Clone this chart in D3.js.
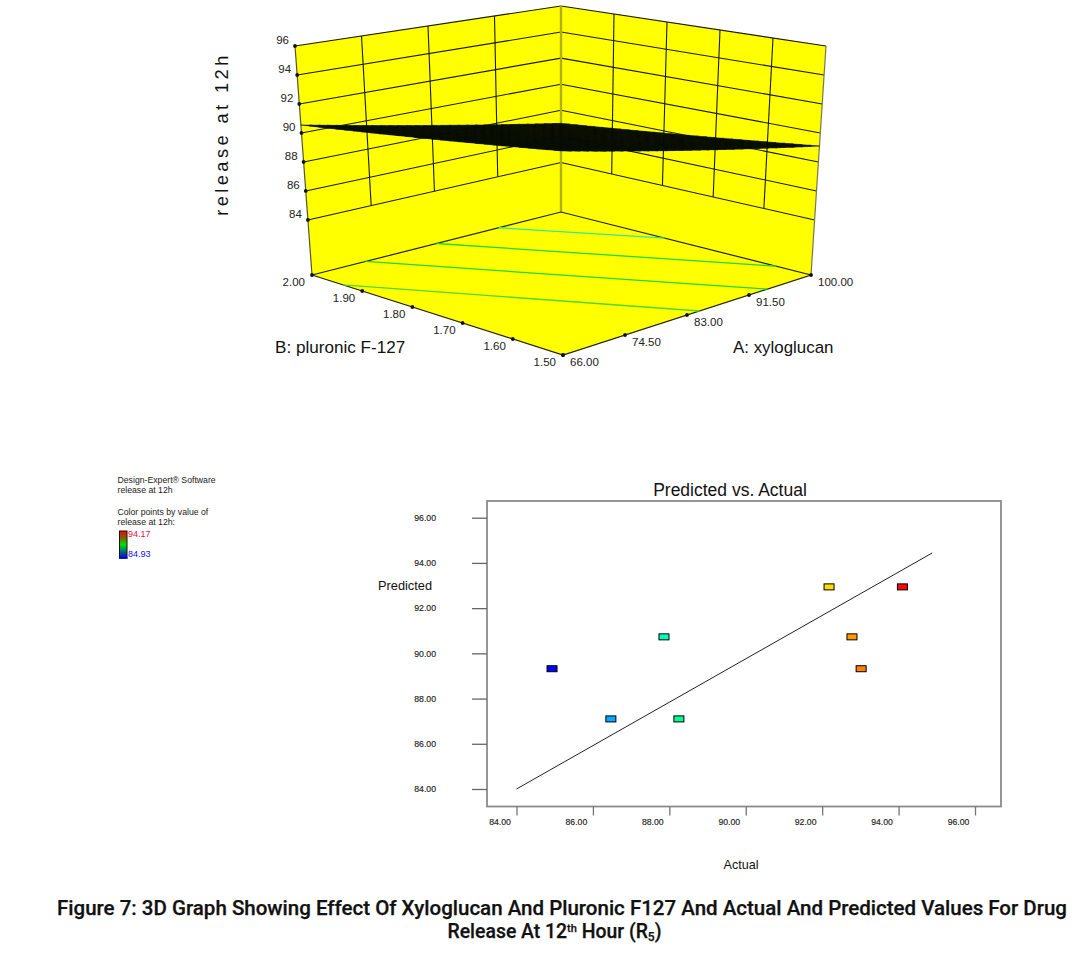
<!DOCTYPE html>
<html><head><meta charset="utf-8">
<script src="https://cdn.jsdelivr.net/npm/d3@7"></script>
<style>html,body{margin:0;background:#fff}svg{display:block}text{font-family:"Liberation Sans",Arial,sans-serif}</style>
</head><body><svg id="c" width="1090" height="953"></svg>
<script>
// ---- data: 3D response surface
const zTicks=[84,86,88,90,92,94,96];
const aTicks=[66,74.5,83,91.5,100];
const bTicks=[1.5,1.6,1.7,1.8,1.9,2];
const zFloor=80.2;
const surfaceA66B20=90.55, surfaceA100B20=87, surfaceA100B15=89.1, surfaceA66B15=92.55;
// contour end points as [A,B] pairs
const contour1=[[91.5,2],[100,1.793]];
const contour2=[[83,2],[100,1.57]];
const contour3=[[73.3,2],[94,1.5]];
const contour4=[[66,1.938],[84.7,1.5]];
const contourColors=["#30e8a0","#20d840","#20d830","#50d830"];
// ---- data: predicted vs actual
const actual=[84.93,87.86,92.18,94.1,92.78,93.02,86.47,88.25];
const predicted=[89.32,90.73,92.94,92.94,90.73,89.32,87.1,87.1];
const axisTicks=[84,86,88,90,92,94,96];
const fitLine=[[84,84],[94.88,94.44]];
const legendMax=94.17, legendMin=84.93;

const svg=d3.select("#c");
const G=svg.append("g");

// ---- 3D projection through scales
const uS=d3.scaleLinear().domain([66,100]).range([0,1]);
const vS=d3.scaleLinear().domain([1.5,2]).range([0,1]);
const edge=(fx,fy,tx,ty)=>({x:d3.scaleLinear().domain([zFloor,96]).range([fx,tx]),y:d3.scaleLinear().domain([zFloor,96]).range([fy,ty])});
const eL=edge(312,275,295,46), eB=edge(561,212,561,6), eR=edge(811,275,826,46), eF=edge(563,355,563,94);
function P(a,b,z){
  const u=uS(a),v=vS(b);
  const bl=(f,g,h,k)=>(1-u)*(1-v)*f+u*(1-v)*g+(1-u)*v*h+u*v*k;
  return [bl(eF.x(z),eR.x(z),eL.x(z),eB.x(z)),bl(eF.y(z),eR.y(z),eL.y(z),eB.y(z))];
}
const line=d3.line();
const poly=(pts,fill)=>G.append("path").attr("d",line(pts)+"Z").attr("fill",fill).attr("stroke","none");
const seg=(pts,col,w)=>G.append("path").attr("d",line(pts)).attr("fill","none").attr("stroke",col).attr("stroke-width",w);

poly([P(66,2,zFloor),P(66,2,96),P(100,2,96),P(100,2,zFloor)],"#ffff00");
poly([P(100,2,zFloor),P(100,2,96),P(100,1.5,96),P(100,1.5,zFloor)],"#ffff00");
poly([P(66,2,zFloor),P(100,2,zFloor),P(100,1.5,zFloor),P(66,1.5,zFloor)],"#ffff00");

// walls grid
zTicks.forEach(z=>{
  seg([P(66,2,z),P(100,2,z)],"#1a1a00",1.1);
  seg([P(100,2,z),P(100,1.5,z)],"#1a1a00",1.1);
});
aTicks.slice(1,-1).forEach(a=>seg([P(a,2,84),P(a,2,96)],"#1a1a00",1.1));
bTicks.slice(1,-1).forEach(b=>seg([P(100,b,84),P(100,b,96)],"#1a1a00",1.1));
seg([P(66,2,zFloor),P(66,2,96)],"#555533",1.2);
seg([P(100,1.5,zFloor),P(100,1.5,96)],"#777755",1.2);
seg([P(100,2,zFloor),P(100,2,96)],"#b0b000",2.4);
// floor edges
seg([P(66,2,zFloor),P(100,2,zFloor),P(100,1.5,zFloor),P(66,1.5,zFloor),P(66,2,zFloor)],"#222200",1.2);

// contours on the floor
[contour1,contour2,contour3,contour4].forEach((c,i)=>{
  seg(c.map(d=>P(d[0],d[1],zFloor)),contourColors[i],1.3);
});

// response surface
const surfZ=(a,b)=>{const u=uS(a),v=vS(b);return (1-u)*(1-v)*surfaceA66B15+u*(1-v)*surfaceA100B15+(1-u)*v*surfaceA66B20+u*v*surfaceA100B20;};
const nSteps=30;
const aS=d3.scaleLinear().domain([0,nSteps]).range([66,100]);
const bS=d3.scaleLinear().domain([0,nSteps]).range([1.5,2]);
const S=(a,b)=>P(a,b,surfZ(a,b));
d3.range(nSteps).forEach(i=>d3.range(nSteps).forEach(j=>{
  const a0=aS(i),a1=aS(i+1),b0=bS(j),b1=bS(j+1);
  G.append("path").attr("d",line([S(a0,b0),S(a1,b0),S(a1,b1),S(a0,b1)])+"Z")
   .attr("fill","#070a02").attr("stroke","#070c04").attr("stroke-width",.5);
}));

// tick dots and labels
const dot=p=>G.append("circle").attr("cx",p[0]).attr("cy",p[1]).attr("r",1.9).attr("fill","#111");
const lab=(x,y,t,anchor,size,col)=>G.append("text").attr("x",x).attr("y",y).attr("text-anchor",anchor||"start").attr("dominant-baseline","central").attr("font-size",size||11.5).attr("fill",col||"#222").text(t);
zTicks.forEach(z=>{const p=P(66,2,z);dot(p);lab(p[0]-6,p[1]-6,String(z),"end");});
bTicks.forEach(b=>{const p=P(66,b,zFloor);dot(p);lab(p[0]-7,p[1]+6.5,b.toFixed(2),"end");});
aTicks.forEach(a=>{const p=P(a,1.5,zFloor);dot(p);lab(p[0]+7,p[1]+6.5,a.toFixed(2),"start");});
G.append("text").attr("transform","translate(228,134) rotate(-90)").attr("text-anchor","middle").attr("font-size",18.3).attr("letter-spacing",3.4).attr("fill","#111").text("release at 12h");
lab(275,347,"B: pluronic F-127","start",17.1,"#111");
lab(733,347,"A: xyloglucan","start",16.9,"#111");

// ---- Legend
[["Design-Expert® Software",480],["release at 12h",490],["Color points by value of",512],["release at 12h:",522]].forEach(d=>lab(117.5,d[1],d[0],"start",8.7,"#222"));
const defs=svg.append("defs");
const grad=defs.append("linearGradient").attr("id","lg").attr("x1",0).attr("x2",0).attr("y1",0).attr("y2",1);
const legendColor=d3.scaleLinear().domain([0,.25,.5,.75,1]).range(["#ff0000","#806000","#00e000","#007070","#0000ff"]);
d3.range(0,1.01,.25).forEach(t=>grad.append("stop").attr("offset",t).attr("stop-color",legendColor(t)));
G.append("rect").attr("x",119.5).attr("y",531).attr("width",7.5).attr("height",27).attr("fill","url(#lg)").attr("stroke","#111").attr("stroke-width",1);
G.append("line").attr("x1",119).attr("x2",127.5).attr("y1",558).attr("y2",558).attr("stroke","#0000d0").attr("stroke-width",1.6);
lab(128,534,legendMax.toFixed(2),"start",9,"#f01040");
lab(128,554,legendMin.toFixed(2),"start",9,"#1010f0");

// ---- Predicted vs Actual
const x=d3.scaleLinear().domain([84,96]).range([516.5,975]);
const y=d3.scaleLinear().domain([84,96]).range([789,517.7]);
const color=d3.scaleLinear().domain([84.93,87.24,89.55,91.86,94.17]).range(["#0000ff","#00ffff","#00ff00","#ffff00","#ff0000"]);
const box={l:487,t:501,r:1001,b:806.5};
G.append("rect").attr("x",box.l).attr("y",box.t).attr("width",box.r-box.l).attr("height",box.b-box.t).attr("fill","#fff").attr("stroke","#8a8a8a").attr("stroke-width",1.8);

const xAxis=d3.axisBottom(x).tickValues(axisTicks).tickSize(9).tickFormat(d3.format(".2f"));
const yAxis=d3.axisLeft(y).tickValues(axisTicks).tickSize(15).tickFormat(d3.format(".2f"));
const gx=G.append("g").attr("transform",`translate(0,${box.b})`).call(xAxis);
const gy=G.append("g").attr("transform",`translate(${box.l},0)`).call(yAxis);
gx.select(".domain").remove();gy.select(".domain").remove();
gx.selectAll("line").attr("stroke","#777").attr("stroke-width",1.3);
gy.selectAll("line").attr("stroke","#666").attr("stroke-width",1.3);
gx.selectAll("text").attr("font-size",8.7).attr("fill","#222").attr("dx",-17).attr("y",12).attr("font-family","Liberation Sans").attr("stroke","#222").attr("stroke-width",.15);
gy.selectAll("text").attr("font-size",8.7).attr("fill","#222").attr("x",-51).attr("font-family","Liberation Sans").attr("stroke","#222").attr("stroke-width",.15);

G.append("path").attr("d",d3.line().x(d=>x(d[0])).y(d=>y(d[1]))(fitLine)).attr("stroke","#222").attr("stroke-width",1).attr("fill","none");
G.selectAll("rect.pt").data(actual.map((a,i)=>({a,p:predicted[i]}))).join("rect").attr("class","pt")
 .attr("x",d=>x(d.a)-5).attr("y",d=>y(d.p)-3).attr("width",10).attr("height",6)
 .attr("fill",d=>color(d.a)).attr("stroke","#000").attr("stroke-width",1);

lab(730,490,"Predicted vs. Actual","middle",17.5,"#111");
lab(378,585,"Predicted","start",12.8,"#111");
lab(741,865,"Actual","middle",12.6,"#111");

// ---- Caption
const cap=svg.append("g").style("fill","#111");
cap.append("text").attr("x",57).attr("y",915).attr("textLength",1010).attr("lengthAdjust","spacingAndGlyphs").attr("font-size",19.4).attr("font-weight",500).attr("stroke","#111").attr("stroke-width",.25).style("font-family","Roboto")
 .text("Figure 7: 3D Graph Showing Effect Of Xyloglucan And Pluronic F127 And Actual And Predicted Values For Drug");
const t2=cap.append("text").attr("x",554.5).attr("y",938).attr("text-anchor","middle").attr("font-size",19.4).attr("font-weight",500).attr("stroke","#111").attr("stroke-width",.25).style("font-family","Roboto");
t2.append("tspan").text("Release At 12");
t2.append("tspan").attr("dy",-6).attr("font-size",11).text("th");
t2.append("tspan").attr("dy",6).text(" Hour (R");
t2.append("tspan").attr("dy",3).attr("font-size",12).text("5");
t2.append("tspan").attr("dy",-3).text(")");
</script></body></html>
